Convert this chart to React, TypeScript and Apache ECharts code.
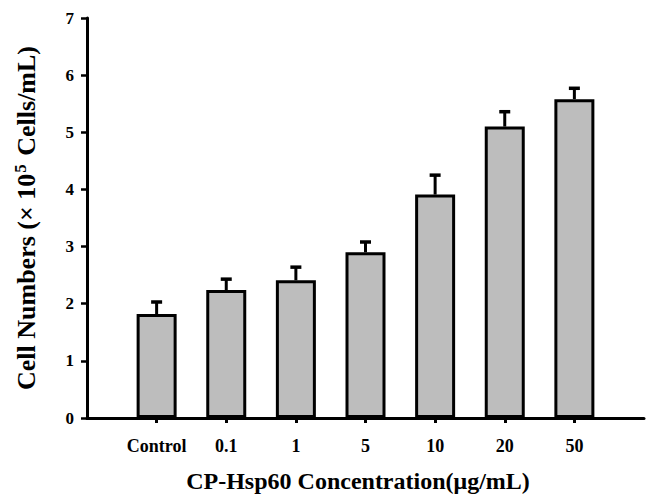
import React, { useEffect, useRef } from "react";
import * as echarts from "echarts";

const categories = ["Control", "0.1", "1", "5", "10", "20", "50"];
const means = [1.82, 2.24, 2.41, 2.9, 3.91, 5.1, 5.58];
const errors = [0.21, 0.19, 0.23, 0.18, 0.34, 0.26, 0.19];
const yTicks = [0, 1, 2, 3, 4, 5, 6, 7];

const FONT = "'Liberation Serif', 'Times New Roman', serif";

export default function App() {
  const ref = useRef<HTMLDivElement>(null);
  useEffect(() => {
    if (!ref.current) return;
    const chart = echarts.init(ref.current, null, { renderer: "svg" });
    const cats = ["", ...categories, ""];
    const barData: any[] = ["-", ...means, "-"];
    const errData = means.map((m, i) => [i + 1, m, errors[i]]);
    chart.setOption({
      animation: false,
      backgroundColor: "#ffffff",
      grid: { left: 87, top: 18, width: 562, height: 400, containLabel: false },
      xAxis: {
        type: "category",
        data: cats,
        boundaryGap: false,
        axisLine: { lineStyle: { color: "#000", width: 3 } },
        axisTick: {
          length: 5,
          lineStyle: { color: "#000", width: 3 },
          interval: (idx: number) => idx > 0 && idx < cats.length - 1,
        },
        axisLabel: {
          color: "#000",
          fontFamily: FONT,
          fontWeight: "bold",
          fontSize: 18,
          margin: 19,
          interval: 0,
        },
        splitLine: { show: false },
      },
      yAxis: {
        type: "value",
        min: yTicks[0],
        max: yTicks[yTicks.length - 1],
        interval: 1,
        axisLine: { show: true, lineStyle: { color: "#000", width: 3 } },
        axisTick: { show: true, length: 6, lineStyle: { color: "#000", width: 2.5 } },
        axisLabel: {
          color: "#000",
          fontFamily: FONT,
          fontWeight: "bold",
          fontSize: 17,
          margin: 13,
        },
        splitLine: { show: false },
        name: "{a|Cell Numbers (× 10}{sup|5}{a| Cells/mL)}",
        nameLocation: "middle",
        nameRotate: 90,
        nameGap: 46,
        nameTextStyle: {
          rich: {
            a: { fontFamily: FONT, fontWeight: "bold", fontSize: 26, color: "#000" },
            sup: {
              fontFamily: FONT,
              fontWeight: "bold",
              fontSize: 17,
              color: "#000",
              verticalAlign: "top",
              padding: [0, 2, 12, 1],
            },
          },
        },
      },
      series: [
        {
          type: "bar",
          data: barData,
          barWidth: 40,
          itemStyle: { color: "#bdbdbd", borderColor: "#000", borderWidth: 3 },
          z: 2,
        },
        {
          type: "custom",
          data: errData,
          z: 3,
          renderItem: (params: any, api: any) => {
            const x = api.value(0);
            const v = api.value(1);
            const e = api.value(2);
            const top = api.coord([x, v]);
            const cap = api.coord([x, v + e]);
            const half = 5.5;
            return {
              type: "group",
              children: [
                {
                  type: "line",
                  shape: { x1: top[0], y1: top[1], x2: cap[0], y2: cap[1] },
                  style: { stroke: "#000", lineWidth: 3 },
                },
                {
                  type: "line",
                  shape: { x1: cap[0] - half, y1: cap[1], x2: cap[0] + half, y2: cap[1] },
                  style: { stroke: "#000", lineWidth: 3.5 },
                },
              ],
            };
          },
        },
      ],
      graphic: [
        {
          type: "text",
          x: 358,
          y: 481,
          style: {
            text: "CP-Hsp60 Concentration(μg/mL)",
            fontFamily: FONT,
            fontWeight: "bold",
            fontSize: 24,
            fill: "#000",
            align: "center",
            verticalAlign: "middle",
          },
        },
      ],
    });
    return () => chart.dispose();
  }, []);
  return (
    <div
      ref={ref}
      style={{ position: "absolute", left: 0, top: 0, width: 647, height: 502, background: "#fff" }}
    />
  );
}
